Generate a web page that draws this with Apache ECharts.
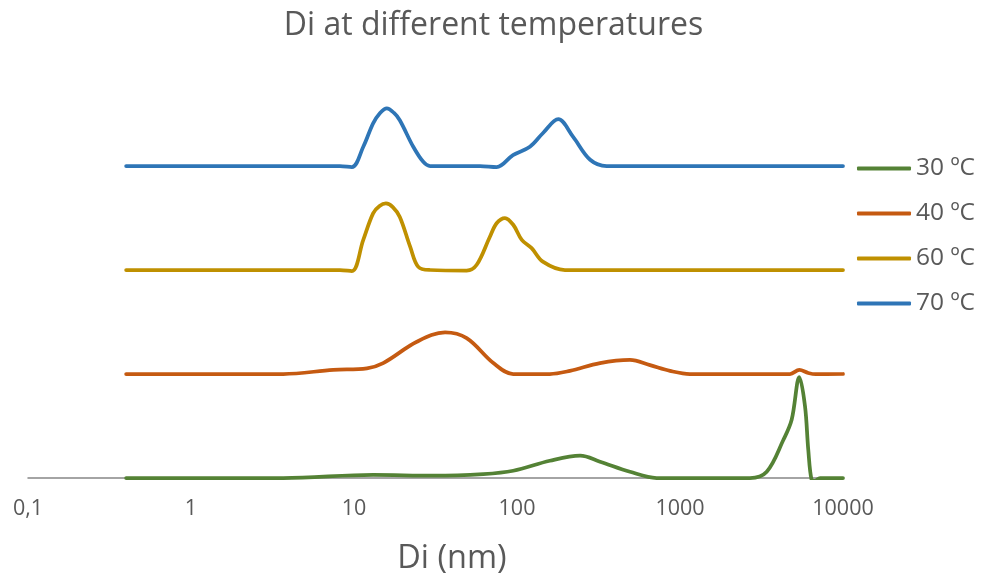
<!DOCTYPE html>
<html>
<head>
<meta charset="utf-8">
<script src="https://cdn.jsdelivr.net/npm/echarts@6/dist/echarts.min.js"></script>
<style>html,body{margin:0;padding:0;background:#fff}#c{width:987px;height:581px}</style>
</head>
<body>
<div id="c"></div>
<script>
var seriesNames = ['30 ºC', '40 ºC', '60 ºC', '70 ºC'];
var tickValues = [0.1, 1, 10, 100, 1000, 10000];

var di30 = [0.4, 3.68, 13.1, 30.7, 62.1, 94.8, 159, 244, 323, 493, 719, 2687, 3404, 4303, 4842, 5395, 5847, 6124, 6427, 6730, 7227, 10000];
var v30  = [0, 0, 0.3, 0.22, 0.38, 0.7, 1.66, 2.14, 1.57, 0.6, 0, 0, 0.6, 3.65, 5.6, 9.7, 6.9, 2.7, -0.2, -0.28, 0, 0];

var di40 = [0.4, 3.68, 7.46, 12, 15.1, 24.3, 36.2, 49.1, 71.6, 94.8, 159, 211, 323, 493, 655, 869, 1151, 4730, 5395, 6124, 6820, 10000];
var v40  = [10, 10, 10.4, 10.55, 11.05, 13.1, 14, 13.45, 11.05, 10, 10, 10.3, 11.05, 11.35, 10.85, 10.3, 10, 10, 10.4, 10.1, 9.98, 10];

var di60 = [0.4, 8.2, 9.7, 11.4, 13.1, 14.35, 15.7, 17.3, 19.1, 22.1, 24.8, 29.3, 49.1, 56.6, 68.2, 75, 84.4, 94.8, 107, 123, 144, 197, 10000];
var v60  = [20, 20, 19.9, 22.9, 25.45, 26.15, 26.4, 26.05, 25.1, 22.25, 20.3, 20, 19.95, 20.5, 23.2, 24.5, 25, 24.35, 22.9, 22.1, 20.8, 20, 20];

var di70 = [0.4, 8.2, 9.7, 11.4, 13.1, 14.45, 15.9, 17.6, 19.1, 23.1, 26.6, 29.3, 59.3, 75, 94.5, 120, 144, 179, 221, 281, 355, 428, 10000];
var v70  = [30, 30, 29.9, 31.85, 34.1, 35.1, 35.55, 35.1, 34.4, 31.85, 30.4, 30, 30, 29.9, 31.05, 31.85, 33.15, 34.5, 32.8, 30.6, 30, 30, 30];

var colors = ['#548235', '#C55A11', '#BF9000', '#2E75B6'];

function pairs(xs, ys) { return xs.map(function (x, i) { return [x, ys[i]]; }); }
var allData = [pairs(di30, v30), pairs(di40, v40), pairs(di60, v60), pairs(di70, v70)];

var chart = echarts.init(document.getElementById('c'));
var font = 'Open Sans, Noto Sans, sans-serif';
chart.setOption({
  animation: false,
  title: {
    text: 'Di at different temperatures',
    left: 'center', top: 5,
    textStyle: { fontFamily: font, fontSize: 32, fontWeight: 'normal', color: '#595959' }
  },
  legend: {
    orient: 'vertical', left: 857, top: 156, padding: 0,
    itemWidth: 54, itemHeight: 4, itemGap: 20, icon: 'roundRect',
    data: seriesNames,
    textStyle: { fontFamily: font, fontSize: 24.5, color: '#595959' }
  },
  grid: { left: 28, right: 144, top: 62, bottom: 103 },
  xAxis: {
    type: 'log', logBase: 10, min: 0.1, max: 10000,
    name: 'Di (nm)', nameLocation: 'middle', nameGap: 64,
    nameTextStyle: { fontFamily: font, fontSize: 32.5, color: '#595959', padding: [0, 0, 0, 33] },
    axisLine: { lineStyle: { color: '#878787', width: 1.5 } },
    axisTick: { show: false },
    splitLine: { show: false },
    axisLabel: {
      margin: 20, fontFamily: font, fontSize: 21.5, color: '#595959',
      formatter: function (v) {
        for (var i = 0; i < tickValues.length; i++) {
          if (Math.abs(v - tickValues[i]) < 1e-9 * tickValues[i]) return String(tickValues[i]).replace('.', ',');
        }
        return String(v).replace('.', ',');
      }
    }
  },
  yAxis: { type: 'value', min: 0, max: 40, show: false },
  series: seriesNames.map(function (n, i) {
    return {
      name: n, type: 'line', data: allData[i], smooth: 0.35,
      showSymbol: false, symbol: 'none', z: 2 + i,
      lineStyle: { color: colors[i], width: 3.75, cap: 'round', join: 'round' },
      itemStyle: { color: colors[i] }
    };
  })
});
</script>
</body>
</html>
